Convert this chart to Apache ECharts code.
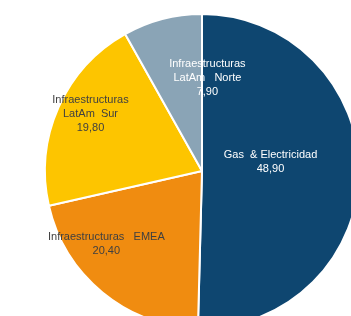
<!DOCTYPE html>
<html><head><meta charset="utf-8">
<script src="https://cdn.jsdelivr.net/npm/echarts@6/dist/echarts.min.js"></script>
<style>html,body{margin:0;padding:0;background:#fff}#c{width:351px;height:316px}</style>
</head><body><div id="c"></div>
<script>
const categories = ['Gas  & Electricidad', 'Infraestructuras   EMEA', 'Infraestructuras\nLatAm  Sur', 'Infraestructuras\nLatAm   Norte'];
const values = [48.9, 20.4, 19.8, 7.9];
const valueLabels = ['48,90', '20,40', '19,80', '7,90'];

const colors = ['#0e4670', '#f08c10', '#fdc500', '#8aa4b6'];
const labelColors = ['#ffffff', '#404040', '#404040', '#ffffff'];
const labelShift = [[-13, -10], [-44, 10], [-37, -24], [26, -14]];

const chart = echarts.init(document.getElementById('c'), null, {renderer: 'canvas'});
chart.setOption({
  animation: false,
  series: [{
    type: 'pie',
    center: [202, 171],
    radius: [0, 157],
    startAngle: 90,
    clockwise: true,
    avoidLabelOverlap: false,
    itemStyle: {borderColor: '#ffffff', borderWidth: 2},
    label: {
      show: true,
      position: 'inside',
      fontFamily: 'Liberation Sans, Arial, sans-serif',
      fontSize: 11,
      lineHeight: 14,
      align: 'center',
      formatter: p => categories[p.dataIndex] + '\n' + valueLabels[p.dataIndex]
    },
    labelLine: {show: false},
    labelLayout: p => ({dx: labelShift[p.dataIndex][0], dy: labelShift[p.dataIndex][1]}),
    data: categories.map((c, i) => ({
      name: c,
      value: values[i],
      itemStyle: {color: colors[i]},
      label: {color: labelColors[i]}
    }))
  }]
});
</script></body></html>
